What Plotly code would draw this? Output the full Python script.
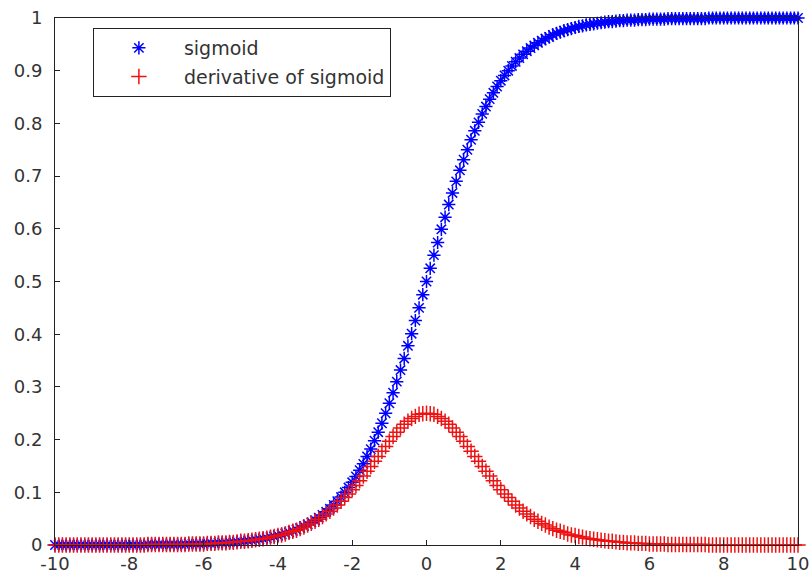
import plotly.graph_objects as go

x = [-10.0, -9.9, -9.8, -9.7, -9.6, -9.5, -9.4, -9.3, -9.2, -9.1,
     -9.0, -8.9, -8.8, -8.7, -8.6, -8.5, -8.4, -8.3, -8.2, -8.1,
     -8.0, -7.9, -7.8, -7.7, -7.6, -7.5, -7.4, -7.3, -7.2, -7.1,
     -7.0, -6.9, -6.8, -6.7, -6.6, -6.5, -6.4, -6.3, -6.2, -6.1,
     -6.0, -5.9, -5.8, -5.7, -5.6, -5.5, -5.4, -5.3, -5.2, -5.1,
     -5.0, -4.9, -4.8, -4.7, -4.6, -4.5, -4.4, -4.3, -4.2, -4.1,
     -4.0, -3.9, -3.8, -3.7, -3.6, -3.5, -3.4, -3.3, -3.2, -3.1,
     -3.0, -2.9, -2.8, -2.7, -2.6, -2.5, -2.4, -2.3, -2.2, -2.1,
     -2.0, -1.9, -1.8, -1.7, -1.6, -1.5, -1.4, -1.3, -1.2, -1.1,
     -1.0, -0.9, -0.8, -0.7, -0.6, -0.5, -0.4, -0.3, -0.2, -0.1,
     0.0, 0.1, 0.2, 0.3, 0.4, 0.5, 0.6, 0.7, 0.8, 0.9,
     1.0, 1.1, 1.2, 1.3, 1.4, 1.5, 1.6, 1.7, 1.8, 1.9,
     2.0, 2.1, 2.2, 2.3, 2.4, 2.5, 2.6, 2.7, 2.8, 2.9,
     3.0, 3.1, 3.2, 3.3, 3.4, 3.5, 3.6, 3.7, 3.8, 3.9,
     4.0, 4.1, 4.2, 4.3, 4.4, 4.5, 4.6, 4.7, 4.8, 4.9,
     5.0, 5.1, 5.2, 5.3, 5.4, 5.5, 5.6, 5.7, 5.8, 5.9,
     6.0, 6.1, 6.2, 6.3, 6.4, 6.5, 6.6, 6.7, 6.8, 6.9,
     7.0, 7.1, 7.2, 7.3, 7.4, 7.5, 7.6, 7.7, 7.8, 7.9,
     8.0, 8.1, 8.2, 8.3, 8.4, 8.5, 8.6, 8.7, 8.8, 8.9,
     9.0, 9.1, 9.2, 9.3, 9.4, 9.5, 9.6, 9.7, 9.8, 9.9,
     10.0]

sigmoid = [0.000, 0.000, 0.000, 0.000, 0.000, 0.000, 0.000, 0.000, 0.000, 0.000,
           0.000, 0.000, 0.000, 0.000, 0.000, 0.000, 0.000, 0.000, 0.000, 0.000,
           0.000, 0.000, 0.000, 0.000, 0.000, 0.001, 0.001, 0.001, 0.001, 0.001,
           0.001, 0.001, 0.001, 0.001, 0.001, 0.001, 0.002, 0.002, 0.002, 0.002,
           0.002, 0.003, 0.003, 0.003, 0.004, 0.004, 0.004, 0.005, 0.005, 0.006,
           0.007, 0.007, 0.008, 0.009, 0.010, 0.011, 0.012, 0.013, 0.015, 0.016,
           0.018, 0.020, 0.022, 0.024, 0.027, 0.029, 0.032, 0.036, 0.039, 0.043,
           0.047, 0.052, 0.057, 0.063, 0.069, 0.076, 0.083, 0.091, 0.100, 0.109,
           0.119, 0.130, 0.142, 0.154, 0.168, 0.182, 0.198, 0.214, 0.231, 0.250,
           0.269, 0.289, 0.310, 0.332, 0.354, 0.378, 0.401, 0.426, 0.450, 0.475,
           0.500, 0.525, 0.550, 0.574, 0.599, 0.622, 0.646, 0.668, 0.690, 0.711,
           0.731, 0.750, 0.769, 0.786, 0.802, 0.818, 0.832, 0.846, 0.858, 0.870,
           0.881, 0.891, 0.900, 0.909, 0.917, 0.924, 0.931, 0.937, 0.943, 0.948,
           0.953, 0.957, 0.961, 0.964, 0.968, 0.971, 0.973, 0.976, 0.978, 0.980,
           0.982, 0.984, 0.985, 0.987, 0.988, 0.989, 0.990, 0.991, 0.992, 0.993,
           0.993, 0.994, 0.995, 0.995, 0.996, 0.996, 0.996, 0.997, 0.997, 0.997,
           0.998, 0.998, 0.998, 0.998, 0.998, 0.999, 0.999, 0.999, 0.999, 0.999,
           0.999, 0.999, 0.999, 0.999, 0.999, 0.999, 1.000, 1.000, 1.000, 1.000,
           1.000, 1.000, 1.000, 1.000, 1.000, 1.000, 1.000, 1.000, 1.000, 1.000,
           1.000, 1.000, 1.000, 1.000, 1.000, 1.000, 1.000, 1.000, 1.000, 1.000,
           1.000]

derivative = [0.000, 0.000, 0.000, 0.000, 0.000, 0.000, 0.000, 0.000, 0.000, 0.000,
              0.000, 0.000, 0.000, 0.000, 0.000, 0.000, 0.000, 0.000, 0.000, 0.000,
              0.000, 0.000, 0.000, 0.000, 0.000, 0.001, 0.001, 0.001, 0.001, 0.001,
              0.001, 0.001, 0.001, 0.001, 0.001, 0.001, 0.002, 0.002, 0.002, 0.002,
              0.002, 0.003, 0.003, 0.003, 0.004, 0.004, 0.004, 0.005, 0.005, 0.006,
              0.007, 0.007, 0.008, 0.009, 0.010, 0.011, 0.012, 0.013, 0.015, 0.016,
              0.018, 0.019, 0.021, 0.024, 0.026, 0.028, 0.031, 0.034, 0.038, 0.041,
              0.045, 0.049, 0.054, 0.059, 0.064, 0.070, 0.076, 0.083, 0.090, 0.097,
              0.105, 0.113, 0.122, 0.131, 0.140, 0.149, 0.159, 0.168, 0.178, 0.187,
              0.197, 0.206, 0.214, 0.222, 0.229, 0.235, 0.240, 0.244, 0.248, 0.249,
              0.250, 0.249, 0.248, 0.244, 0.240, 0.235, 0.229, 0.222, 0.214, 0.206,
              0.197, 0.187, 0.178, 0.168, 0.159, 0.149, 0.140, 0.131, 0.122, 0.113,
              0.105, 0.097, 0.090, 0.083, 0.076, 0.070, 0.064, 0.059, 0.054, 0.049,
              0.045, 0.041, 0.038, 0.034, 0.031, 0.028, 0.026, 0.024, 0.021, 0.019,
              0.018, 0.016, 0.015, 0.013, 0.012, 0.011, 0.010, 0.009, 0.008, 0.007,
              0.007, 0.006, 0.005, 0.005, 0.004, 0.004, 0.004, 0.003, 0.003, 0.003,
              0.002, 0.002, 0.002, 0.002, 0.002, 0.001, 0.001, 0.001, 0.001, 0.001,
              0.001, 0.001, 0.001, 0.001, 0.001, 0.001, 0.000, 0.000, 0.000, 0.000,
              0.000, 0.000, 0.000, 0.000, 0.000, 0.000, 0.000, 0.000, 0.000, 0.000,
              0.000, 0.000, 0.000, 0.000, 0.000, 0.000, 0.000, 0.000, 0.000, 0.000,
              0.000]

x_ticks = [-10, -8, -6, -4, -2, 0, 2, 4, 6, 8, 10]
x_tick_labels = ["-10", "-8", "-6", "-4", "-2", "0", "2", "4", "6", "8", "10"]
y_ticks = [0, 0.1, 0.2, 0.3, 0.4, 0.5, 0.6, 0.7, 0.8, 0.9, 1]
y_tick_labels = ["0", "0.1", "0.2", "0.3", "0.4", "0.5", "0.6", "0.7", "0.8", "0.9", "1"]

FONT = "DejaVu Sans"
TXT = "#333333"

fig = go.Figure()
fig.add_trace(go.Scatter(
    x=x, y=sigmoid, mode="markers", name="sigmoid", legendgroup="a",
    cliponaxis=False,
    marker=dict(symbol="asterisk-open", size=11, color="#0000ff",
                line=dict(color="#0000ff", width=1.5)),
))
fig.add_trace(go.Scatter(
    x=x, y=derivative, mode="markers", name="derivative of sigmoid", legendgroup="b",
    cliponaxis=False,
    marker=dict(symbol="cross-thin-open", size=11, color="#ee1111",
                line=dict(color="#ee1111", width=1.5)),
))

axis_common = dict(
    showline=True, linecolor="#222222", linewidth=1, mirror=True,
    ticks="inside", ticklen=5, tickcolor="#222222", showgrid=False, zeroline=False,
    tickfont=dict(family=FONT, size=18, color=TXT), automargin=False,
)
fig.update_xaxes(range=[-10, 10], tickvals=x_ticks, ticktext=x_tick_labels,
                 ticklabelstandoff=2, ticklabeloverflow="allow", **axis_common)
fig.update_yaxes(range=[0, 1], tickvals=y_ticks, ticktext=y_tick_labels,
                 ticklabelstandoff=8, ticklabeloverflow="allow", **axis_common)

fig.update_layout(
    width=810, height=574,
    margin=dict(l=55, r=12, t=18, b=29),
    paper_bgcolor="white", plot_bgcolor="white",
    showlegend=True,
    legend=dict(
        x=0.051, y=0.981, xanchor="left", yanchor="top",
        bgcolor="white", bordercolor="#222222", borderwidth=1,
        font=dict(family=FONT, size=19, color=TXT),
        itemwidth=80, tracegroupgap=1,
    ),
)

fig.write_html(
    "out.html",
    config={"displayModeBar": False},
    post_script="document.body.style.margin='0';document.body.style.overflow='hidden';",
)
